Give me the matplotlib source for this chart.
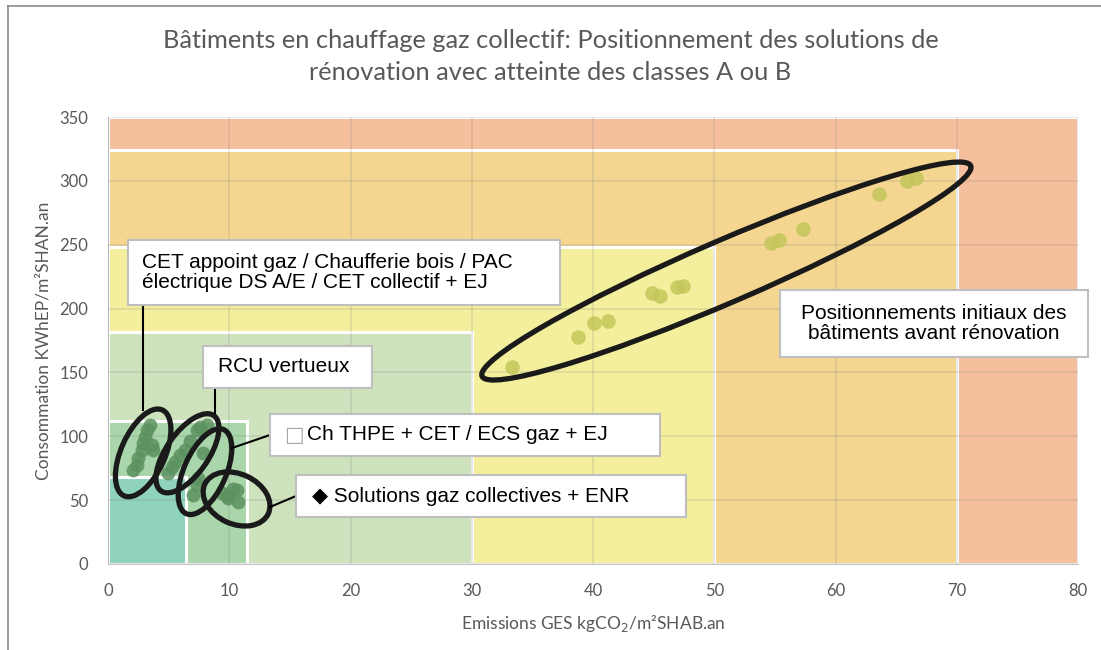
import numpy as np
import matplotlib.pyplot as plt
from matplotlib.patches import Rectangle, Ellipse
from matplotlib.transforms import IdentityTransform

W, H = 1101, 650

# classes energie / climat (limite GES, limite Cep, couleur)
zone_ges = [80, 70, 50, 30, 11.5, 6.4]
zone_cep = [350, 324, 248, 182, 112, 68]
zone_col = ["#f5bf9d", "#f4d690", "#f4ef9c", "#cee3bd", "#a9d6aa", "#8fd3bc"]

# positions initiales des batiments
init_ges = [33.3, 38.8, 40.1, 41.2, 44.9, 45.5, 46.9, 47.4, 54.7, 55.3, 57.3, 63.6, 65.9, 66.6]
init_cep = [154, 178, 189, 190, 212, 210, 217, 218, 251, 254, 262, 290, 300, 302]

# solutions de renovation
cet_ges = [3.5, 3.2, 3.05, 2.9, 3.6, 2.8, 3.7, 2.5, 2.4, 2.1]
cet_cep = [109, 105, 99.5, 95, 93, 89, 89, 83, 77.5, 73.6]
rcu_ges = [7.6, 8.2, 7.3, 6.8, 6.35, 5.9, 5.5, 5.3, 4.95]
rcu_cep = [107, 109, 105, 96, 89, 85, 80, 76, 71]
thpe_ges = [7.8, 7.4, 7.3, 7.0]
thpe_cep = [87, 67, 62, 54]
enr_ges = [9.8, 10.3, 10.6, 10.7, 9.4, 9.9]
enr_cep = [53, 59, 58, 48.5, 55.5, 52]

plt.rcParams['font.family'] = ['Lato', 'DejaVu Sans']
gris = "#595959"

fig = plt.figure(figsize=(W / 100, H / 100), dpi=100)
ax = fig.add_axes([108 / W, 1 - 564 / H, 970 / W, 447 / H])
ax.set_xlim(0, 80)
ax.set_ylim(0, 350)

for g, c, col in zip(zone_ges, zone_cep, zone_col):
    ax.add_patch(Rectangle((0, 0), g, c, facecolor=col, edgecolor="white", lw=2.2, zorder=1))

ax.set_xticks(np.arange(0, 81, 10))
ax.set_yticks(np.arange(0, 351, 50))
ax.grid(True, color="#7f7f7f", alpha=0.22, lw=1.1, zorder=2)
ax.set_axisbelow(False)
ax.tick_params(length=0, labelsize=12, labelcolor=gris, pad=14)
for s in ["top", "right"]:
    ax.spines[s].set_visible(False)
for s in ["left", "bottom"]:
    ax.spines[s].set_color("#c8c8c8")

ax.scatter(init_ges, init_cep, s=110, color="#c3c65a", alpha=0.85, lw=0, zorder=3)
for xs, ys in [(cet_ges, cet_cep), (rcu_ges, rcu_cep), (thpe_ges, thpe_cep), (enr_ges, enr_cep)]:
    ax.scatter(xs, ys, s=100, color="#5c9160", alpha=0.85, lw=0, zorder=3)

ax.set_xlabel("Emissions GES kgCO$_2$/m²SHAB.an", fontsize=12.5, color=gris, labelpad=10)
ax.set_ylabel("Consommation KWhEP/m²SHAN.an", fontsize=12.5, color=gris, labelpad=6)
fig.suptitle("Bâtiments en chauffage gaz collectif: Positionnement des solutions de\n"
             "rénovation avec atteinte des classes A ou B",
             y=1 - 29 / H, fontsize=18.3, color=gris, linespacing=1.45)

# ellipses de regroupement: centre (donnees), demi-axes en pixels, angle
ell_c = [(51.0, 229.4), (2.9, 87.0), (6.55, 86.7), (8.0, 72.3), (10.6, 50.9)]
ell_ab = [(266, 31), (47, 22), (46, 21), (46, 21), (35, 25)]
ell_ang = [23.3, 66, 55, 66, -25]
for (cx, cy), (a, b), ang in zip(ell_c, ell_ab, ell_ang):
    px = ax.transData.transform((cx, cy))
    e = Ellipse(px, 2 * a, 2 * b, angle=ang, fill=False, edgecolor="#1a1a1a",
                lw=3.8, transform=IdentityTransform(), zorder=5)
    ax.add_patch(e)


def P(x, y):
    return (x, H - y)


# traits de rappel (pixels de l'image)
lines = [((143, 305), (143, 410)), ((215, 388), (215, 413)),
         ((270, 435), (232, 448)), ((296, 496), (270, 507))]
for p0, p1 in lines:
    (x0, y0), (x1, y1) = P(*p0), P(*p1)
    fig.add_artist(plt.Line2D([x0, x1], [y0, y1], color="black", lw=1.5,
                              transform=IdentityTransform(), zorder=6))

# etiquettes: boite (x0, y0, x1, y1) en pixels, texte, alignement
boxes = [((128, 240, 560, 305), "CET appoint gaz / Chaufferie bois / PAC\nélectrique DS A/E / CET collectif + EJ", "left", 14),
         ((203, 346, 372, 388), "RCU vertueux", "left", 15),
         ((270, 414, 660, 456), "Ch THPE + CET / ECS gaz + EJ", "left", 37),
         ((296, 475, 686, 517), "\u25c6 Solutions gaz collectives + ENR", "left", 16),
         ((780, 290, 1088, 357), "Positionnements initiaux des\nbâtiments avant rénovation", "center", 0)]
for (x0, y0, x1, y1), txt, ha, pad in boxes:
    bx, by = P(x0, y1)
    fig.add_artist(Rectangle((bx, by), x1 - x0, y1 - y0, facecolor="white",
                             edgecolor="#bfbfbf", lw=1.5, transform=IdentityTransform(), zorder=7))
    tx = x0 + pad if ha == "left" else (x0 + x1) / 2
    ty = (y0 + y1) / 2
    fig.text(*P(tx, ty), txt, ha=ha, va="center", fontsize=15, color="black",
             family=["Liberation Sans", "DejaVu Sans"], transform=IdentityTransform(),
             linespacing=1.1, zorder=8)

# petit carre (glyphe manquant) devant "Ch THPE"
fig.text(*P(284, 435), "\u25a1", ha="left", va="center", fontsize=15, color="#a6a6a6",
         family="DejaVu Sans", transform=IdentityTransform(), zorder=8)

# cadre du graphique
fig.add_artist(plt.Line2D([8, W + 5], [H - 6, H - 6], color="#8c8c8c", lw=1.2, transform=IdentityTransform()))
fig.add_artist(plt.Line2D([8, 8], [-5, H - 6], color="#8c8c8c", lw=1.2, transform=IdentityTransform()))

plt.savefig("out.png", dpi=100)
